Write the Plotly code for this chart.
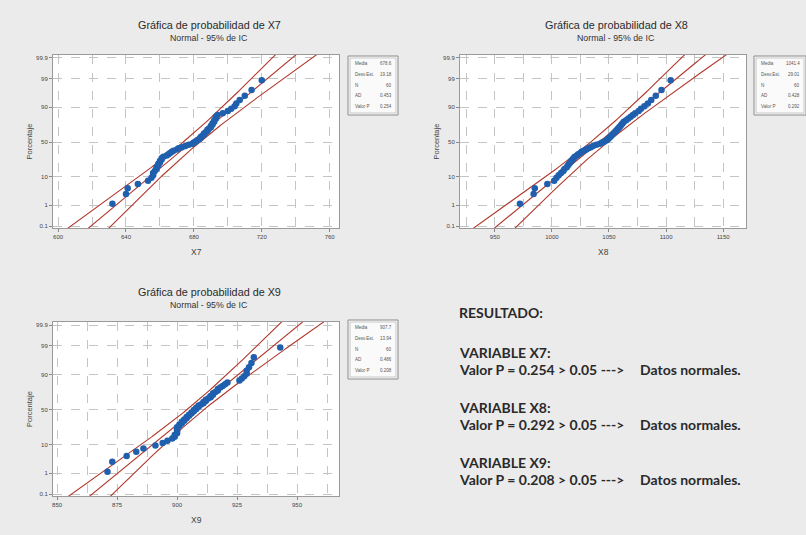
import numpy as np
import plotly.graph_objects as go
from statistics import NormalDist

# ---------------- data ----------------
X7 = [632, 640, 641, 647, 653, 655, 656, 656, 657, 658,
      658, 659, 659, 660, 660, 661, 661, 662, 664, 665,
      666, 667, 668, 670, 671, 673, 675, 677, 679, 680,
      681, 682, 683, 684, 684, 685, 686, 686, 687, 688,
      688, 689, 690, 690, 691, 691, 692, 692, 693, 693,
      694, 697, 700, 702, 704, 705, 707, 710, 714, 720]

X8 = [972, 984, 985, 996, 1002, 1004, 1006, 1008, 1010, 1011,
      1013, 1014, 1015, 1016, 1017, 1018, 1019, 1020, 1022, 1023,
      1025, 1026, 1028, 1030, 1032, 1034, 1036, 1039, 1042, 1044,
      1046, 1048, 1049, 1050, 1051, 1052, 1053, 1054, 1055, 1056,
      1057, 1058, 1059, 1060, 1061, 1062, 1063, 1065, 1067, 1069,
      1071, 1073, 1076, 1078, 1081, 1084, 1087, 1091, 1096, 1104]

X9 = [871, 873, 879, 883, 886, 891, 894, 896, 898, 899,
      899, 900, 900, 900, 900, 900, 901, 901, 902, 902,
      903, 903, 904, 904, 905, 905, 906, 906, 907, 907,
      908, 908, 909, 909, 910, 911, 911, 912, 912, 913,
      914, 914, 915, 915, 916, 917, 917, 918, 919, 920,
      921, 926, 927, 928, 929, 929, 930, 931, 932, 943]

VARIABLES = ["X7", "X8", "X9"]
MEDIA = [678.6, 1041.4, 907.7]
DESV_EST = [19.18, 29.01, 13.94]
AD = [0.453, 0.428, 0.486]
VALOR_P = [0.254, 0.292, 0.208]

PCT_TICKS = [0.1, 1, 10, 50, 90, 99, 99.9]
PCT_LABELS = ["0.1", "1", "10", "50", "90", "99", "99.9"]
X_TICKS = [[600, 640, 680, 720, 760],
           [950, 1000, 1050, 1100, 1150],
           [850, 875, 900, 925, 950]]
X_MINOR_STEP = [20, 25, 12.5]

RESULT_TITLE = "RESULTADO:"
RESULT_LINES = [
    ("VARIABLE X7:", "Valor P = 0.254 > 0.05 --->", "Datos normales."),
    ("VARIABLE X8:", "Valor P = 0.292 > 0.05 --->", "Datos normales."),
    ("VARIABLE X9:", "Valor P = 0.208 > 0.05 --->", "Datos normales."),
]

# ---------------- layout geometry (pixels) ----------------
W, H = 806, 535
def fx(x): return x / W
def fy(y): return 1 - y / H

PANELS = [
    dict(px=(53, 339), py=(55, 228), xr=[597, 765.5], box=(348, 56, 398, 115)),
    dict(px=(460, 746), py=(55, 228), xr=[919.5, 1170], box=(754, 56, 806, 115)),
    dict(px=(53, 339), py=(322, 496), xr=[848.3, 967.5], box=(348, 320, 398, 379)),
]
YR = [-3.16, 3.2]

nd = NormalDist()
BLUE = "#1f5fae"
RED = "#b0382c"
GRID = "#c4c4c4"
FONT = "Liberation Sans"

fig = go.Figure()
annotations = []
shapes = []
datasets = [X7, X8, X9]
layout_axes = {}

def ann(x, y, text, size, color="#333", family=FONT, xanchor="center", **kw):
    return dict(x=fx(x), y=fy(y), xref="paper", yref="paper", text=text,
                showarrow=False, xanchor=xanchor, yanchor="middle",
                font=dict(size=size, color=color, family=family), **kw)

for i, (name, data) in enumerate(zip(VARIABLES, datasets)):
    p = PANELS[i]
    n = len(data)
    xs = sorted(data)
    zs = [nd.inv_cdf((k + 1 - 0.3) / (n + 0.4)) for k in range(n)]
    ax = "" if i == 0 else str(i + 1)
    xa, ya = "x" + ax, "y" + ax

    zz = np.linspace(-3.6, 3.6, 181)
    fit = MEDIA[i] + zz * DESV_EST[i]
    half = 1.96 * DESV_EST[i] * np.sqrt((1 + zz ** 2 / 2) / n)
    for xv in (fit - half, fit + half, fit):
        fig.add_trace(go.Scatter(x=xv, y=zz, mode="lines", xaxis=xa, yaxis=ya,
                                 line=dict(color=RED, width=1.1), hoverinfo="skip",
                                 showlegend=False))
    fig.add_trace(go.Scatter(x=xs, y=zs, mode="markers", xaxis=xa, yaxis=ya,
                             marker=dict(color=BLUE, size=6.5), showlegend=False))

    layout_axes["xaxis" + ax] = dict(
        domain=[fx(p["px"][0]), fx(p["px"][1])], anchor=ya, range=p["xr"],
        tickvals=X_TICKS[i], ticks="outside", ticklen=3, tickcolor="#888",
        tickfont=dict(size=6, color="#444", family=FONT),
        showgrid=True, gridcolor=GRID, griddash="dash", gridwidth=1,
        minor=dict(dtick=X_MINOR_STEP[i], tick0=X_TICKS[i][0], showgrid=True,
                   gridcolor=GRID, griddash="dash", ticklen=0),
        showline=True, mirror=True, linecolor="#9a9a9a", linewidth=1,
        zeroline=False, fixedrange=True)
    layout_axes["yaxis" + ax] = dict(
        domain=[fy(p["py"][1]), fy(p["py"][0])], anchor=xa, range=YR,
        tickvals=[nd.inv_cdf(v / 100) for v in PCT_TICKS], ticktext=PCT_LABELS,
        ticks="outside", ticklen=3, tickcolor="#888",
        tickfont=dict(size=6, color="#444", family=FONT),
        showgrid=True, gridcolor=GRID, griddash="dash", gridwidth=1,
        showline=True, mirror=True, linecolor="#9a9a9a", linewidth=1,
        zeroline=False, fixedrange=True)

    cx = (p["px"][0] + p["px"][1]) / 2
    top = p["py"][0]
    bot = p["py"][1]
    annotations += [
        ann(cx + 13, top - 30, "Gráfica de probabilidad de " + name, 10.8, "#2a2a2a"),
        ann(cx + 13, top - 17, "Normal - 95% de IC", 8.8, "#333"),
        ann(p["px"][0] - 24, (top + bot) / 2, "Porcentaje", 7.5, "#444", textangle=-90),
        ann(cx, bot + 24, name, 8.5, "#444"),
    ]
    # legend/statistics box
    bx0, by0, bx1, by1 = p["box"]
    shapes.append(dict(type="rect", xref="paper", yref="paper",
                       x0=fx(bx0), x1=fx(bx1), y0=fy(by1), y1=fy(by0),
                       line=dict(color="#8a8a8a", width=1), fillcolor="#fafafa"))
    shapes.append(dict(type="rect", xref="paper", yref="paper",
                       x0=fx(bx0 + 2), x1=fx(bx1 - 2), y0=fy(by1 - 2), y1=fy(by0 + 2),
                       line=dict(color="#c8c8c8", width=1), fillcolor="rgba(0,0,0,0)"))
    rows = [("Media", f"{MEDIA[i]:.1f}"), ("Desv.Est.", f"{DESV_EST[i]:.2f}"),
            ("N", f"{n}"), ("AD", f"{AD[i]:.3f}"), ("Valor P", f"{VALOR_P[i]:.3f}")]
    for r, (lab, val) in enumerate(rows):
        yy = by0 + 7.5 + r * 10.8
        annotations.append(ann(bx0 + 5, yy, lab, 4.5, "#555", xanchor="left"))
        annotations.append(ann(bx1 - 4, yy, val, 4.5, "#555", xanchor="right"))

# results text block
TFONT = "Lato"
TSIZE = 14
annotations.append(ann(457, 312, "<b>" + RESULT_TITLE + "</b>", TSIZE, "#2a2a2a", TFONT, "left"))
for k, (head, line, concl) in enumerate(RESULT_LINES):
    y0 = 352 + k * 55
    annotations.append(ann(457, y0, "<b>" + head + "</b>", TSIZE, "#2a2a2a", TFONT, "left"))
    annotations.append(ann(457, y0 + 17, "<b>" + line + "</b>", TSIZE, "#2a2a2a", TFONT, "left"))
    annotations.append(ann(638, y0 + 17, "<b>" + concl + "</b>", TSIZE, "#2a2a2a", TFONT, "left"))

fig.update_layout(
    width=W, height=H, margin=dict(l=0, r=0, t=0, b=0),
    paper_bgcolor="#ebebeb", plot_bgcolor="white",
    annotations=annotations, shapes=shapes, showlegend=False,
    **layout_axes)

fig.write_html("out.html", config={"displayModeBar": False},
               post_script="document.body.style.margin='0';document.body.style.overflow='hidden';")
